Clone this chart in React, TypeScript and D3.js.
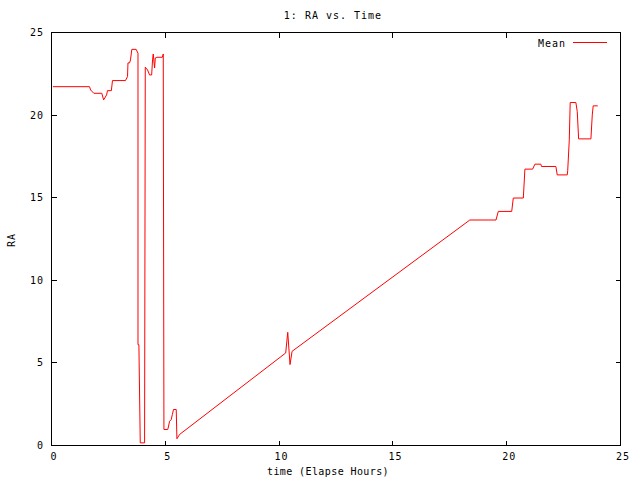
import React from "react";
import * as d3 from "d3";

const times: number[] = [
  0.06, 1.67, 1.72, 1.86, 2.21, 2.29, 2.42, 2.46, 2.63, 2.68, 3.25, 3.34, 3.36, 3.43, 3.47, 3.53, 3.72, 3.8,
  3.8, 3.84, 3.9, 4.09, 4.12, 4.22, 4.31, 4.4, 4.44, 4.47, 4.53, 4.56, 4.63, 4.87, 4.91, 4.94, 5.11, 5.19,
  5.26, 5.31, 5.36, 5.48, 5.51, 5.63, 10.29, 10.38, 10.48, 10.57, 18.38, 19.53, 19.63, 20.22, 20.29, 20.73,
  20.8, 21.14, 21.24, 21.5, 21.53, 22.16, 22.22, 22.66, 22.68, 22.75, 22.79, 23.04, 23.1, 23.16, 23.7, 23.76,
  23.8, 24.0,
];
const raValues: number[] = [
  21.72, 21.72, 21.52, 21.32, 21.32, 20.92, 21.22, 21.48, 21.48, 22.09, 22.09, 22.33, 23.16, 23.16, 23.34, 23.98, 23.98, 23.74,
  6.1, 6.1, 0.16, 0.16, 22.9, 22.73, 22.43, 22.43, 23.34, 23.7, 22.85, 23.46, 23.5, 23.5, 23.7, 0.97, 0.97, 1.47,
  1.57, 1.87, 2.18, 2.18, 0.41, 0.67, 5.6, 6.85, 4.9, 5.7, 13.65, 13.65, 14.17, 14.17, 14.98, 14.98,
  16.73, 16.73, 17.03, 17.03, 16.89, 16.89, 16.38, 16.38, 16.63, 18.5, 20.76, 20.76, 20.21, 18.56, 18.56, 20.01,
  20.56, 20.56,
];
const xTicks: number[] = [0, 5, 10, 15, 20, 25];
const yTicks: number[] = [0, 5, 10, 15, 20, 25];
const titleText = "1: RA vs. Time";
const xLabelText = "time (Elapse Hours)";
const yLabelText = "RA";
const legendText = "Mean";

export default function App() {
  const W = 640;
  const H = 480;
  const left = 51.5, right = 620.5, top = 32.5, bottom = 445.5;
  const x = d3.scaleLinear().domain([0, 25]).range([left, right]);
  const y = d3.scaleLinear().domain([0, 25]).range([bottom, top]);
  const pts: [number, number][] = times.map((t, i) => [t, raValues[i]]);
  const line = d3
    .line<[number, number]>()
    .x((d) => x(d[0]))
    .y((d) => y(d[1]));
  const font = "'DejaVu Sans Mono', 'Liberation Mono', monospace";
  const fs = 10;
  const ls = 1;
  const tick = 5;
  return (
    <div style={{ position: "fixed", left: 0, top: 0, width: W, height: H, background: "#fff" }}>
      <svg width={W} height={H} style={{ display: "block" }}>
        <rect x={0} y={0} width={W} height={H} fill="#fff" />
        <g fontFamily={font} fontSize={fs} fill="#000" letterSpacing={ls}>
          {/* title */}
          <text x={333} y={19} textAnchor="middle">{titleText}</text>
          {/* x label */}
          <text x={328} y={475} textAnchor="middle" letterSpacing={0.4}>{xLabelText}</text>
          {/* y label */}
          <text transform={`translate(15,240) rotate(-90)`} textAnchor="middle">{yLabelText}</text>
          {/* x tick labels */}
          {xTicks.map((t) => (
            <text key={"xt" + t} x={x(t) + 2.5} y={460} textAnchor="middle">{t}</text>
          ))}
          {yTicks.map((t) => (
            <text key={"yt" + t} x={44} y={y(t) + 3.5} textAnchor="end">{t}</text>
          ))}
          {/* legend */}
          <text x={566} y={46.5} textAnchor="end">{legendText}</text>
        </g>
        <g stroke="#000" strokeWidth={1} shapeRendering="crispEdges" fill="none">
          <rect x={left} y={top} width={right - left} height={bottom - top} />
          {xTicks.slice(1, -1).map((t) => (
            <g key={"xk" + t}>
              <line x1={x(t)} x2={x(t)} y1={bottom} y2={bottom - tick} />
              <line x1={x(t)} x2={x(t)} y1={top} y2={top + tick} />
            </g>
          ))}
          {yTicks.slice(1, -1).map((t) => (
            <g key={"yk" + t}>
              <line x1={left} x2={left + tick} y1={y(t)} y2={y(t)} />
              <line x1={right} x2={right - tick} y1={y(t)} y2={y(t)} />
            </g>
          ))}
        </g>
        <path d={line(pts) || ""} fill="none" stroke="#ff0000" strokeWidth={1} />
        <line x1={573} x2={607} y1={42.5} y2={42.5} stroke="#ff0000" strokeWidth={1} shapeRendering="crispEdges" />
      </svg>
    </div>
  );
}
